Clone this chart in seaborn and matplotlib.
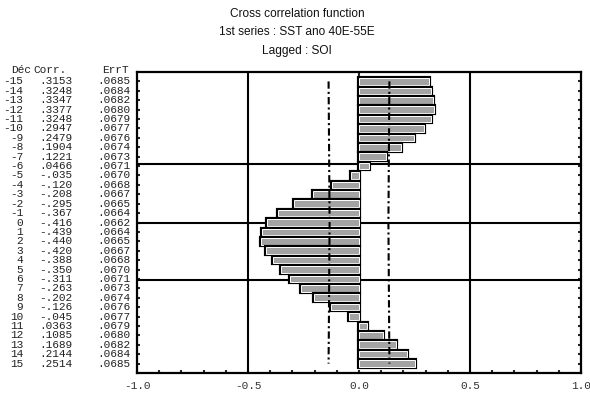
import matplotlib
matplotlib.use("Agg")
import matplotlib.pyplot as plt
import matplotlib.patheffects as pe
from matplotlib.transforms import blended_transform_factory
from matplotlib.ticker import MultipleLocator
import numpy as np
import pandas as pd
import seaborn as sns

# ---- data ----
lags = list(range(-15, 16))
corr = [0.3153, 0.3248, 0.3347, 0.3377, 0.3248, 0.2947, 0.2479, 0.1904, 0.1221,
        0.0466, -0.035, -0.120, -0.208, -0.295, -0.367, -0.416, -0.439, -0.440,
        -0.420, -0.388, -0.350, -0.311, -0.263, -0.202, -0.126, -0.045, 0.0363,
        0.1085, 0.1689, 0.2144, 0.2514]
errt = [0.0685, 0.0684, 0.0682, 0.0680, 0.0679, 0.0677, 0.0676, 0.0674, 0.0673,
        0.0671, 0.0670, 0.0668, 0.0667, 0.0665, 0.0664, 0.0662, 0.0664, 0.0665,
        0.0667, 0.0668, 0.0670, 0.0671, 0.0673, 0.0674, 0.0676, 0.0677, 0.0679,
        0.0680, 0.0682, 0.0684, 0.0685]
corr_labels = [".3153", ".3248", ".3347", ".3377", ".3248", ".2947", ".2479", ".1904",
               ".1221", ".0466", "-.035", "-.120", "-.208", "-.295", "-.367", "-.416",
               "-.439", "-.440", "-.420", "-.388", "-.350", "-.311", "-.263", "-.202",
               "-.126", "-.045", ".0363", ".1085", ".1689", ".2144", ".2514"]
err_labels = [".0685", ".0684", ".0682", ".0680", ".0679", ".0677", ".0676", ".0674",
              ".0673", ".0671", ".0670", ".0668", ".0667", ".0665", ".0664", ".0662",
              ".0664", ".0665", ".0667", ".0668", ".0670", ".0671", ".0673", ".0674",
              ".0676", ".0677", ".0679", ".0680", ".0682", ".0684", ".0685"]
x_ticks = [-1.0, -0.5, 0.0, 0.5, 1.0]
x_tick_labels = ["-1.0", "-0.5", "0.0", "0.5", "1.0"]
v_grid = [-0.5, 0.5]
h_grid = [-6.2, 0.05, 6.1]
titles = ["Cross correlation function", "1st series : SST ano 40E-55E", "Lagged : SOI"]
headers = ["Déc", "Corr.", "ErrT"]

df = pd.DataFrame({"lag": lags, "corr": corr, "err": errt})
df["lo"] = -2 * df["err"]
df["hi"] = 2 * df["err"]

sns.set_style("white")
plt.rcParams["font.family"] = ["Liberation Sans", "DejaVu Sans"]

W, H = 590, 395
fig = plt.figure(figsize=(W / 100, H / 100), dpi=100)
L, R, T, B = 137, 581, 72, 373
ax = fig.add_axes([L / W, 1 - B / H, (R - L) / W, (B - T) / H])

sns.barplot(data=df, x="corr", y="lag", orient="y", native_scale=True,
            width=0.7, color="#a3a3a3", edgecolor="white", linewidth=0.7,
            errorbar=None, saturation=1, ax=ax, zorder=3)
for p in ax.patches:
    p.set_facecolor("#a3a3a3")
    p.set_path_effects([pe.Stroke(linewidth=3.0, foreground="black"), pe.Normal()])

# confidence limits (+/- 2 ErrT)
for col in ["lo", "hi"]:
    sns.lineplot(data=df, x=col, y="lag", sort=False, estimator=None, orient="y",
                 color="black", linewidth=1.5, linestyle=(0, (3.5, 1.5, 1, 1.5)),
                 ax=ax, zorder=4)

for v in v_grid:
    ax.axvline(v, color="black", linewidth=1.5, zorder=2)
for h in h_grid:
    ax.axhline(h, color="black", linewidth=1.5, zorder=2)

ax.set_xlim(-1.0, 1.0)
ax.set_ylim(16, -16)
ax.set_xticks(x_ticks)
ax.set_xticklabels(x_tick_labels, family="Liberation Mono", fontsize=8, color="#333333")
ax.xaxis.set_minor_locator(MultipleLocator(0.1))
ax.set_yticks(lags)
ax.tick_params(axis="x", which="both", direction="in", length=2, width=1.5,
               bottom=True, top=False, pad=6)
ax.tick_params(axis="y", which="both", direction="in", length=2, width=1.5,
               left=True, right=True, labelleft=False)
ax.set_xlabel("")
ax.set_ylabel("")
for s in ax.spines.values():
    s.set_visible(True)
    s.set_linewidth(1.6)
    s.set_color("black")

# single tick on the top edge at zero
top = ax.secondary_xaxis("top")
top.set_xticks([0.0])
top.tick_params(direction="in", length=3, width=1.5, labeltop=False)
top.spines["top"].set_visible(False)

# table on the left
tr = blended_transform_factory(fig.transFigure, ax.transData)
mono = dict(family="Liberation Mono", fontsize=8, color="#222222", va="center", ha="right")
for lg, cl, el in zip(lags, corr_labels, err_labels):
    fig.text(23 / W, lg, str(lg), transform=tr, **mono)
    fig.text(72 / W, lg, cl, transform=tr, **mono)
    fig.text(130 / W, lg, el, transform=tr, **mono)
hdr_x = [11, 33, 102]
for hx, ht in zip(hdr_x, headers):
    fig.text(hx / W, 1 - 70 / H, ht, family="Liberation Mono", fontsize=8,
             color="#222222", va="center", ha="left")

# titles
for ty, tt in zip([14, 32, 51], titles):
    fig.text(297 / W, 1 - ty / H, tt, ha="center", va="center", fontsize=8.6,
             color="#111111")

fig.savefig("out.png", dpi=100)
